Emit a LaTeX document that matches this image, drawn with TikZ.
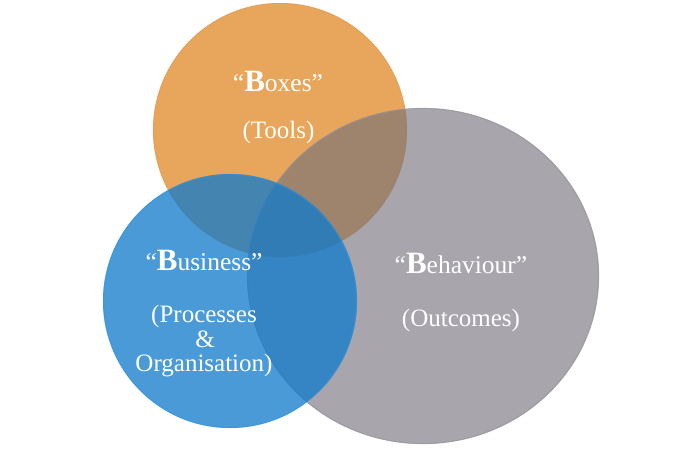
\documentclass[tikz,border=0pt]{standalone}
\usepackage{fontspec}
\setmainfont{Liberation Serif}
\definecolor{orangeC}{RGB}{232,166,92}
\definecolor{orangeRim}{RGB}{222,156,86}
\definecolor{grayC}{RGB}{112,110,120}
\definecolor{grayRim}{RGB}{150,149,155}
\definecolor{blueC}{RGB}{17,122,204}
\definecolor{blueRim}{RGB}{50,150,225}
\tikzset{
  titletxt/.style={text=white, inner sep=0pt, anchor=base, font=\fontsize{25.5}{25.5}\selectfont},
  subtxt/.style={text=white, inner sep=0pt, anchor=base, font=\fontsize{25}{25}\selectfont},
}
\newcommand{\bigB}{{\fontsize{31}{31}\selectfont\bfseries B}}
\begin{document}
\begin{tikzpicture}[x=1pt,y=-1pt]
\useasboundingbox (0,0) rectangle (694,448);
% circles
\fill[orangeC] (280,130) circle[radius=127pt];
\draw[orangeRim, line width=1.2pt, opacity=.45] (280,130) circle[radius=126.5pt];
\fill[grayC, fill opacity=.61] (423,276) ellipse[x radius=176pt, y radius=168pt];
\draw[grayRim, line width=1.2pt, opacity=.6] (423,276) ellipse[x radius=175.5pt, y radius=167.5pt];
\fill[blueC, fill opacity=.76] (230,301) circle[radius=127pt];
\draw[blueRim, line width=1.2pt, opacity=.5] (230,301) circle[radius=126.5pt];
% texts
\node[titletxt] (boxesT) at (278,91) {“\bigB oxes”};
\node[subtxt] (boxesS) at (278.5,138) {(Tools)};
\node[titletxt] (busT) at (204,270) {“\bigB usiness”};
\node[subtxt] (busS1) at (204,322) {(Processes};
\node[subtxt] (busS2) at (205,347) {\&};
\node[subtxt] (busS3) at (204,371) {Organisation)};
\node[titletxt] (behT) at (461,273) {“\bigB ehaviour”};
\node[subtxt] (behS) at (461,326) {(Outcomes)};
\end{tikzpicture}
\end{document}
